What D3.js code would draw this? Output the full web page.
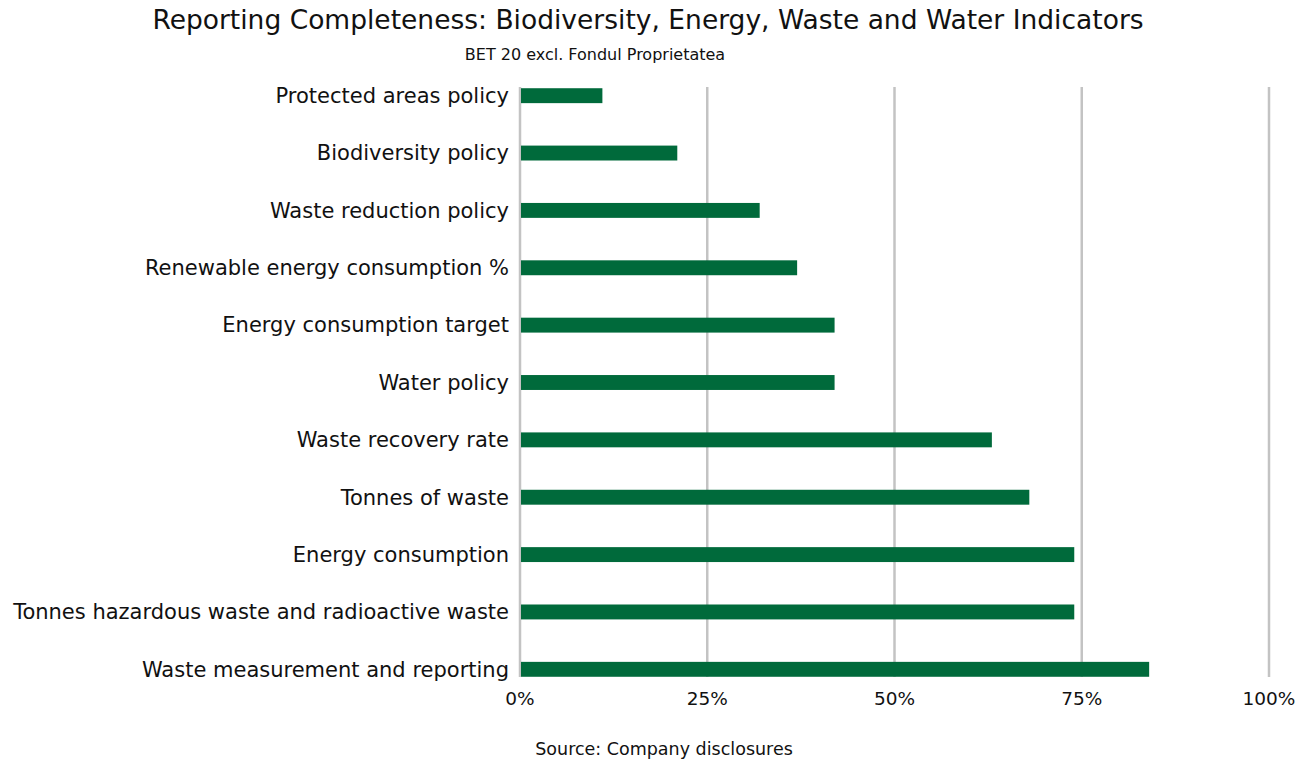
<!DOCTYPE html>
<html>
<head>
<meta charset="utf-8">
<script src="https://cdn.jsdelivr.net/npm/d3@7"></script>
<style>
  body { margin: 0; background: #fff; }
  text { font-family: "DejaVu Sans", sans-serif; fill: #111; }
</style>
</head>
<body>
<svg width="1308" height="760"></svg>
<script>
// Chart data
var categories = [
  "Protected areas policy",
  "Biodiversity policy",
  "Waste reduction policy",
  "Renewable energy consumption %",
  "Energy consumption target",
  "Water policy",
  "Waste recovery rate",
  "Tonnes of waste",
  "Energy consumption",
  "Tonnes hazardous waste and radioactive waste",
  "Waste measurement and reporting"
];
var values = [11, 21, 32, 37, 42, 42, 63, 68, 74, 74, 84];
var tickValues = [0, 25, 50, 75, 100];

var svg = d3.select("svg"),
    width = +svg.attr("width"),
    height = +svg.attr("height");

var plotLeft = 520, plotRight = 1269, plotTop = 67, plotBottom = 698;

var x = d3.scaleLinear().domain([0, 100]).range([plotLeft, plotRight]);
var y = d3.scaleBand().domain(categories).range([plotTop, plotBottom]).paddingInner(0.74).paddingOuter(0.37);

// Gridlines
svg.append("g").selectAll("line")
  .data(tickValues)
  .enter().append("line")
    .attr("x1", function(d) { return x(d); })
    .attr("x2", function(d) { return x(d); })
    .attr("y1", 87)
    .attr("y2", 677)
    .attr("stroke", "#c3c3c3")
    .attr("stroke-width", 2.5);

// Bars
svg.append("g").selectAll("rect")
  .data(values)
  .enter().append("rect")
    .attr("x", x(0) + 1)
    .attr("y", function(d, i) { return y(categories[i]); })
    .attr("width", function(d) { return x(d) - x(0) - 1; })
    .attr("height", y.bandwidth())
    .attr("fill", "#006a3b");

// Category labels
svg.append("g").selectAll("text")
  .data(categories)
  .enter().append("text")
    .attr("x", 509)
    .attr("y", function(d) { return y(d) + y.bandwidth() / 2; })
    .attr("dy", "0.35em")
    .attr("text-anchor", "end")
    .style("font-size", "21px")
    .text(function(d) { return d; });

// Axis tick labels
svg.append("g").selectAll("text")
  .data(tickValues)
  .enter().append("text")
    .attr("x", function(d) { return x(d); })
    .attr("y", 705)
    .attr("text-anchor", "middle")
    .style("font-size", "18.5px")
    .text(function(d) { return d + "%"; });

// Titles
svg.append("text")
  .attr("x", 648).attr("y", 29)
  .attr("text-anchor", "middle")
  .style("font-size", "26.5px")
  .text("Reporting Completeness: Biodiversity, Energy, Waste and Water Indicators");

svg.append("text")
  .attr("x", 595).attr("y", 60)
  .attr("text-anchor", "middle")
  .style("font-size", "16px")
  .text("BET 20 excl. Fondul Proprietatea");

svg.append("text")
  .attr("x", 664).attr("y", 755)
  .attr("text-anchor", "middle")
  .style("font-size", "17.5px")
  .text("Source: Company disclosures");
</script>
</body>
</html>
